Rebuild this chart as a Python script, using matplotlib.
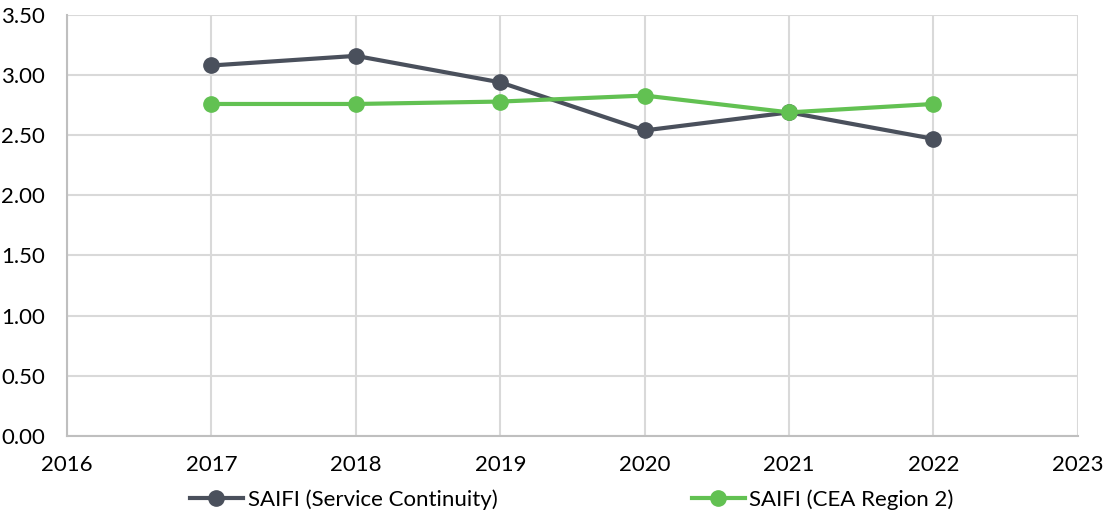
import matplotlib
matplotlib.use('Agg')
import matplotlib.pyplot as plt

plt.rcParams['font.family'] = ['Lato', 'DejaVu Sans']
plt.rcParams['font.size'] = 16

years = [2017, 2018, 2019, 2020, 2021, 2022]
saifi_service = [3.08, 3.16, 2.94, 2.54, 2.69, 2.47]
saifi_cea = [2.76, 2.76, 2.78, 2.83, 2.69, 2.76]
labels = ['SAIFI (Service Continuity)', 'SAIFI (CEA Region 2)']

dark = '#4a505c'
green = '#62c152'
grid = '#d9d9d9'

fig = plt.figure(figsize=(11.06, 5.17), dpi=100)
ax = fig.add_axes([0.0606, 0.157, 0.914, 0.814])

ax.plot(years, saifi_service, color=dark, lw=3, marker='o', ms=11, label=labels[0], zorder=3)
ax.plot(years, saifi_cea, color=green, lw=3, marker='o', ms=11, label=labels[1], zorder=3)

ax.set_xlim(2016, 2023)
ax.set_ylim(0, 3.5)
ax.set_xticks(range(2016, 2024))
ax.set_yticks([i * 0.5 for i in range(8)])
ax.set_yticklabels(['%.2f' % (i * 0.5) for i in range(8)])
ax.grid(True, color=grid, lw=1.5)
ax.set_axisbelow(True)
for s in ['top', 'right']:
    ax.spines[s].set_visible(False)
for s in ['left', 'bottom']:
    ax.spines[s].set_color('#bfbfbf')
    ax.spines[s].set_linewidth(1.5)
ax.tick_params(axis='x', length=0, pad=14)
ax.tick_params(axis='y', length=0, pad=16)

fig.legend(loc='lower center', ncol=2, frameon=False, bbox_to_anchor=(0.517, -0.025),
           columnspacing=8.75, handlelength=2.4, handletextpad=0.2, fontsize=16)

fig.savefig('out.png', dpi=100)
